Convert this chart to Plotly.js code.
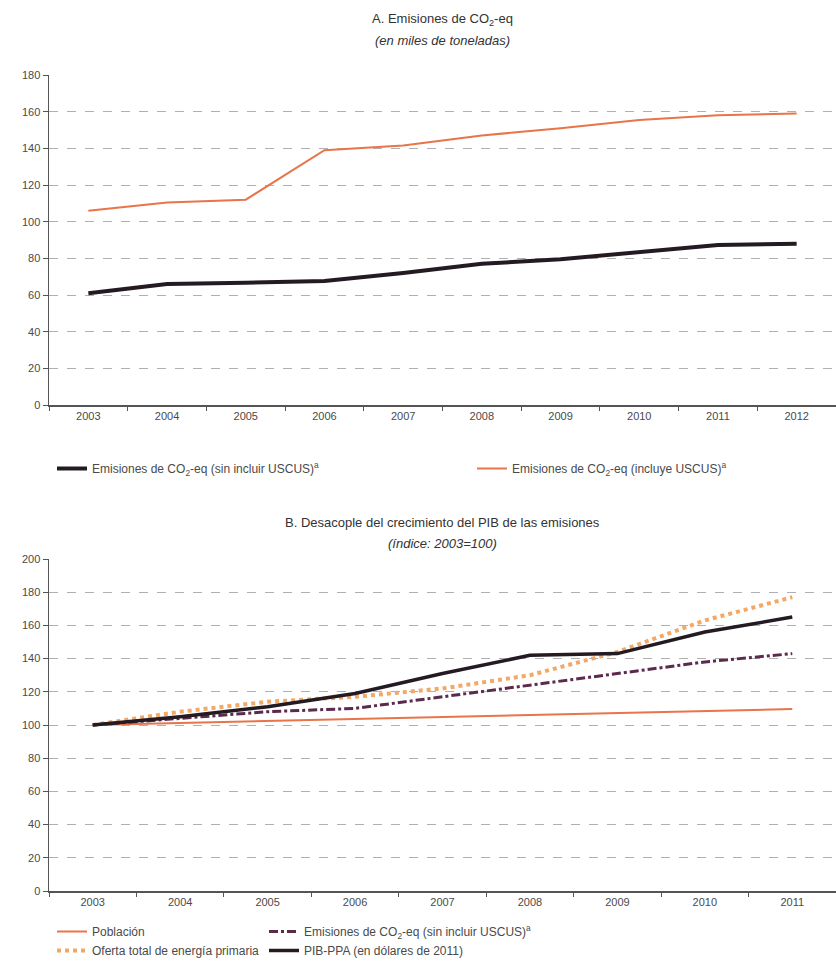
<!DOCTYPE html>
<html>
<head>
<meta charset="utf-8">
<script src="https://cdn.plot.ly/plotly-3.0.1.min.js"></script>
<style>html,body{margin:0;padding:0;background:#fff;}#chart{width:836px;height:972px;}</style>
</head>
<body>
<div id="chart"></div>
<script>
// ---- Data ----
var yearsA = ['2003','2004','2005','2006','2007','2008','2009','2010','2011','2012'];
var emisSinUscusA = [61, 66, 66.7, 67.7, 72, 77, 79.5, 83.5, 87.3, 88];
var emisConUscusA = [106, 110.5, 112, 139, 141.5, 147, 151, 155.5, 158, 159];

var yearsB = ['2003','2004','2005','2006','2007','2008','2009','2010','2011'];
var poblacionB = [100, 101.2, 102.3, 103.4, 104.5, 105.6, 106.8, 108.2, 109.6];
var ofertaEnergiaB = [100, 108, 114, 117, 122, 130, 144, 163, 177];
var emisSinUscusB = [100, 104, 108, 110, 117, 124, 131, 138, 143];
var pibPpaB = [100, 105, 111, 119, 131, 142, 143, 156, 165];

var tickValsA = [0,20,40,60,80,100,120,140,160,180];
var tickValsB = [0,20,40,60,80,100,120,140,160,180,200];

// ---- Layout helpers ----
var W = 836, H = 972, ML = 49;
function py(p){ return 1 - p / H; }          // page px -> paper y
function px(p){ return (p - ML) / (W - ML); } // page px -> paper x

var FONT = 'Liberation Sans, Arial, sans-serif';
var txt = '#4a4a4a';
var cOrange = '#E8744A';
var cBlack = '#241a22';
var cPurple = '#5b2a4c';
var cDot = '#F2A866';

var traces = [
  {x: yearsA, y: emisSinUscusA, xaxis:'x', yaxis:'y', mode:'lines', legend:'legend',
   name:'Emisiones de CO<sub>2</sub>-eq (sin incluir USCUS)<sup>a</sup>',
   line:{color:cBlack, width:4}},
  {x: yearsA, y: emisConUscusA, xaxis:'x', yaxis:'y', mode:'lines', legend:'legend2',
   name:'Emisiones de CO<sub>2</sub>-eq (incluye USCUS)<sup>a</sup>',
   line:{color:cOrange, width:2}},
  {x: yearsB, y: poblacionB, xaxis:'x2', yaxis:'y2', mode:'lines', legend:'legend3',
   name:'Población', line:{color:cOrange, width:2}},
  {x: yearsB, y: ofertaEnergiaB, xaxis:'x2', yaxis:'y2', mode:'lines', legend:'legend3',
   name:'Oferta total de energía primaria', line:{color:cDot, width:4, dash:'dot'}},
  {x: yearsB, y: emisSinUscusB, xaxis:'x2', yaxis:'y2', mode:'lines', legend:'legend4',
   name:'Emisiones de CO<sub>2</sub>-eq (sin incluir USCUS)<sup>a</sup>',
   line:{color:cPurple, width:3, dash:'dashdot'}},
  {x: yearsB, y: pibPpaB, xaxis:'x2', yaxis:'y2', mode:'lines', legend:'legend4',
   name:'PIB-PPA (en dólares de 2011)', line:{color:cBlack, width:3.5}}
];

var xCommon = {
  type:'category', showgrid:false, zeroline:false, showline:true, linecolor:'#555', linewidth:1.5,
  ticks:'outside', ticklen:4, tickcolor:'#555', tickson:'boundaries',
  tickfont:{family:FONT, size:11, color:txt}, fixedrange:true
};
var yCommon = {
  showgrid:true, gridcolor:'#b0b0b0', griddash:'dash', gridwidth:1, zeroline:false,
  showline:true, linecolor:'#555', linewidth:1.5, ticks:'outside', ticklen:5, tickcolor:'#555',
  tickfont:{family:FONT, size:11, color:txt}, fixedrange:true
};

function legendAt(x, y){
  return {x:px(x), y:py(y), xanchor:'left', yanchor:'top', bgcolor:'rgba(0,0,0,0)',
    font:{family:FONT, size:12, color:txt}, tracegroupgap:0, itemwidth:30};
}
function titleAnn(text, y){
  return {text:text, xref:'paper', yref:'paper', x:0.5, y:py(y), xanchor:'center', yanchor:'middle',
    showarrow:false, font:{family:FONT, size:13, color:'#333'}};
}

var layout = {
  width: W, height: H,
  margin:{l:ML, r:0, t:0, b:0},
  paper_bgcolor:'#fff', plot_bgcolor:'#fff',
  showlegend:true,
  xaxis: Object.assign({}, xCommon, {domain:[0,1], anchor:'y', range:[-0.5, yearsA.length-0.5]}),
  yaxis: Object.assign({}, yCommon, {domain:[py(405), py(75)], anchor:'x', range:[0,180], tickvals:tickValsA}),
  xaxis2: Object.assign({}, xCommon, {domain:[0,1], anchor:'y2', range:[-0.5, yearsB.length-0.5]}),
  yaxis2: Object.assign({}, yCommon, {domain:[py(891), py(559)], anchor:'x2', range:[0,200], tickvals:tickValsB}),
  legend: legendAt(52, 454),
  legend2: legendAt(472, 454),
  legend3: legendAt(52, 917),
  legend4: legendAt(264, 917),
  annotations:[
    titleAnn('A. Emisiones de CO<sub>2</sub>-eq', 19),
    titleAnn('<i>(en miles de toneladas)</i>', 40),
    titleAnn('B. Desacople del crecimiento del PIB de las emisiones', 522),
    titleAnn('<i>(índice: 2003=100)</i>', 543)
  ]
};

Plotly.newPlot('chart', traces, layout, {displayModeBar:false, staticPlot:true});
</script>
</body>
</html>
